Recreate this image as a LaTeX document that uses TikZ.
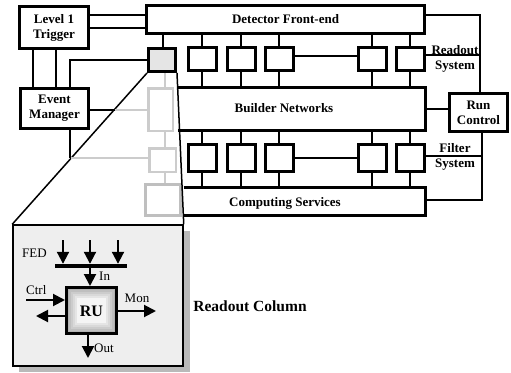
\documentclass[tikz,border=0pt]{standalone}
\usepackage{fontspec}
\setmainfont{Liberation Serif}
\usetikzlibrary{arrows.meta,calc}
\begin{document}
\begin{tikzpicture}[x=1pt,y=-1pt,
  box/.style={draw,line width=3pt,rectangle,inner sep=0pt,fill=white},
  openbox/.style={rectangle,inner sep=0pt,outer sep=0pt,fill=white},
  lab/.style={font=\fontsize{13}{15}\selectfont\bfseries,align=center},
  conn/.style={line width=2pt},
  thinconn/.style={line width=1.2pt},
  gbox/.style={draw=gray!40,line width=2.5pt,rectangle,inner sep=0pt,fill=white},
  gconn/.style={draw=gray!40,line width=2pt},
  arr/.style={line width=2pt,-{Triangle[length=12pt,width=12pt]}},
  small/.style={font=\fontsize{13}{15}\selectfont,inner sep=0pt}
]
\useasboundingbox (0,0) rectangle (511,372);

% main blocks
\node[box,minimum width=69pt,minimum height=42pt,lab] (l1) at (54,27.5) {Level 1\\Trigger};
\node[box,minimum width=68pt,minimum height=40pt,lab] (em) at (54.5,108.5) {Event\\Manager};
\node[box,minimum width=278pt,minimum height=28pt,lab] (dfe) at (285.5,19.5) {Detector Front-end};
\node[openbox,minimum width=247.5pt,minimum height=43pt] (bn) at (301.75,109) {};
\draw[line width=3pt] (bn.north west) -- (bn.north east) -- (bn.south east) -- (bn.south west);
\node[lab] (bnt) at (284,108) {Builder Networks};
\node[openbox,minimum width=242pt,minimum height=28pt] (cs) at (304.5,201.5) {};
\draw[line width=3pt] (cs.north west) -- (cs.north east) -- (cs.south east) -- (cs.south west);
\node[lab] (cst) at (285,203) {Computing Services};
\node[box,minimum width=58pt,minimum height=38pt,lab] (rc) at (478.5,112.5) {Run\\Control};

% L1 trigger links
\draw[conn] (l1.east |- 0,15) -- (dfe.west |- 0,15);
\draw[conn] (l1.east |- 0,28) -- (dfe.west |- 0,28);
\draw[conn] (l1.south -| 33,0) -- (em.north -| 33,0);
\draw[conn] (l1.south -| 56,0) -- (em.north -| 56,0);

% readout and filter columns
\foreach \i/\x in {1/202,2/241,3/279,4/372,5/410}{
  \node[box,minimum width=28pt,minimum height=23pt] (r\i) at (\x,59) {};
  \draw[conn] (r\i.north) -- (r\i.north |- dfe.south);
  \draw[conn] (r\i.south) -- (r\i.south |- bn.north);
  \node[box,minimum width=28pt,minimum height=27pt] (f\i) at (\x,158) {};
  \draw[conn] (f\i.north) -- (f\i.north |- bn.south);
  \draw[conn] (f\i.south) -- (f\i.south |- cs.north);
}
\draw[thinconn] (r3.east |- 0,56) -- (r4.west |- 0,56);
\draw[thinconn] (f3.east |- 0,158) -- (f4.west |- 0,158);

% run control links
\coordinate (jr) at (480,55);
\coordinate (jf) at (482,156);
\draw[conn] (dfe.east |- 0,15) -| (rc.north -| jr);
\draw[conn] (r5.east |- jr) -- (jr);
\draw[conn] (bn.east |- 0,109) -- (rc.west |- 0,109);
\draw[conn] (rc.south -| jf) |- (cs.east |- 0,200);
\draw[conn] (f5.east |- jf) -- (jf);

% inset panel and shadow
\fill[gray!55] (19,231) rectangle (190,372);
\node[draw,line width=1.5pt,fill=gray!13,minimum width=170pt,minimum height=141pt,inner sep=0pt] (inset) at (98,295.5) {};

% highlighted column
\node[box,fill=gray!20,minimum width=27pt,minimum height=23pt] (g1) at (162,60) {};
\node[gbox,minimum width=24.5pt,minimum height=42.5pt] (g2) at (160.5,109.5) {};
\node[gbox,minimum width=26.5pt,minimum height=23.5pt] (g3) at (162.5,160) {};
\node[gbox,draw=gray!50,line width=3pt,minimum width=35pt,minimum height=31pt] (g4) at (163,200) {};
\draw[conn] (g1.north -| 163,0) -- (dfe.south -| 163,0);
\draw[gconn] (g1.south -| 165,0) -- (g2.north -| 165,0);
\draw[gconn] (g2.south -| 165,0) -- (g3.north -| 165,0);
\draw[gconn] (g3.south -| 165,0) -- (g4.north -| 165,0);

% zoom cone
\draw[line width=1.5pt] (g1.south west) -- (inset.north west);
\draw[line width=1.5pt] (g1.south east) -- (inset.north east);

% event manager links
\coordinate (d1) at ($(g1.south west)!0.24!(inset.north west)$);
\coordinate (d2) at ($(g1.south west)!0.562!(inset.north west)$);
\coordinate (e3) at (70,158);
\draw[conn] (em.north -| e3) |- (g1.west);
\draw[conn] (em.east |- 0,110) -- (d1 |- 0,110);
\draw[gconn] (d1 |- 0,110) -- (g2.west |- 0,110);
\draw[conn] (em.south -| e3) -- (e3);
\draw[gconn] (d2 |- e3) -- (g3.west |- e3);

% inset contents
\node[small,anchor=west] (fed) at (22,253) {FED};
\node[fill=black,minimum width=72pt,minimum height=4pt,inner sep=0pt] (bar) at (91,266) {};
\foreach \x in {63,90,118}{
  \draw[arr] (\x,240) -- (bar.north -| \x,0);
}
\node[draw,line width=3pt,minimum width=50pt,minimum height=46pt,inner sep=0pt,fill=gray!60] (ru) at (91.5,310.5) {};
\fill[gray!50] (69,290) rectangle (114,331);
\fill[gray!40] (71,292) rectangle (112,329);
\fill[gray!30] (73,294) rectangle (110,327);
\fill[gray!20] (75,296) rectangle (108,325);
\fill[gray!8] (77,298) rectangle (106,323);
\node[font=\fontsize{16}{18}\selectfont\bfseries] (rut) at (91.5,311) {RU};
\draw[arr] (bar.south -| 90,0) -- (ru.north -| 90,0);
\node[small,anchor=west] (in) at (99,276) {In};
\node[small,anchor=west] (ctrl) at (26,290) {Ctrl};
\draw[arr] (26,300) -- (ru.west |- 0,300);
\draw[arr] (ru.west |- 0,316) -- (36,316);
\node[small] (mon) at (137,298) {Mon};
\draw[arr] (ru.east |- 0,311) -- (156,311);
\draw[arr] (ru.south -| 88,0) -- (88,358);
\node[small,anchor=west] (out) at (94,348) {Out};

\node[font=\fontsize{15.5}{18}\selectfont\bfseries] (rcol) at (250,306) {Readout Column};

% side labels
\node[lab,anchor=base] (rs1) at (455,54) {Readout};
\node[lab,anchor=base] (rs2) at (455,69) {System};
\node[lab,anchor=base] (fs1) at (455,152) {Filter};
\node[lab,anchor=base] (fs2) at (455,167) {System};
\end{tikzpicture}
\end{document}
